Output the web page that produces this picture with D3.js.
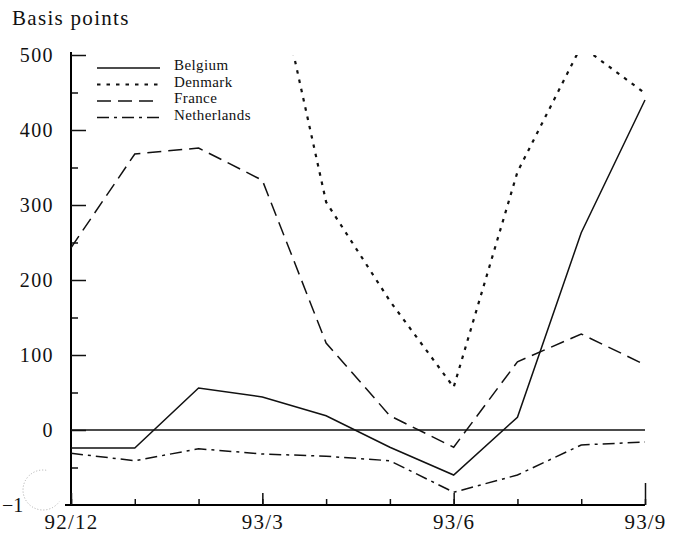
<!DOCTYPE html>
<html>
<head>
<meta charset="utf-8">
<script src="https://cdn.jsdelivr.net/npm/d3@7"></script>
<style>
  body { margin: 0; background: #fff; }
  svg { display: block; }
  text { font-family: "Liberation Serif", "Times New Roman", serif; fill: #111; }
</style>
</head>
<body>
<svg id="chart" width="673" height="543"></svg>
<script>
// monthly spreads, basis points
var months = ["92/12", "93/1", "93/2", "93/3", "93/4", "93/5", "93/6", "93/7", "93/8", "93/9"];
var belgium = [-24, -24, 56, 44, 19, -23, -60, 17, 263, 440];
var denmark = [null, null, null, 690, 304, 172, 57, 344, 512, 449];
var france = [243, 368, 376, 333, 116, 19, -23, 91, 128, 87];
var netherlands = [-31, -41, -25, -32, -35, -41, -83, -60, -20, -16];

var yMajor = [-100, 0, 100, 200, 300, 400, 500];
var yMinor = [-50, 50, 150, 250, 350, 450];
var xLabels = ["92/12", "93/3", "93/6", "93/9"];

var seriesNames = ["Belgium", "Denmark", "France", "Netherlands"];
var seriesData = [belgium, denmark, france, netherlands];
var dashes = [null, "3.5,6", "14,7", "12,5,3,5"];

var svg = d3.select("#chart");

var x = d3.scalePoint().domain(months).range([71, 645]);
var y = d3.scaleLinear().domain([-100, 500]).range([505, 55]);

svg.append("text")
    .attr("x", 12).attr("y", 25)
    .style("font-size", "21px")
    .style("letter-spacing", "1.3px")
    .text("Basis points");

// clip so Denmark runs off the top
svg.append("clipPath").attr("id", "plotclip")
  .append("rect")
    .attr("x", 60).attr("y", y(500))
    .attr("width", 600).attr("height", y(-100) - y(500) + 5);

// y axis, ticks point inward
var yAxisMinor = d3.axisLeft(y).tickValues(yMinor).tickSizeInner(-7).tickSizeOuter(0).tickFormat("");
var yAxisMajor = d3.axisLeft(y).tickValues(yMajor.filter(function (v) { return v > -100; }))
    .tickSizeInner(-15).tickSizeOuter(0).tickPadding(17)
    .tickFormat(function (d) { return d; });

var gy1 = svg.append("g").attr("transform", "translate(71,0)").call(yAxisMinor);
var gy2 = svg.append("g").attr("transform", "translate(71,0)").call(yAxisMajor);
gy1.select(".domain").remove();
gy2.select(".domain").attr("stroke-width", 2).attr("d", "M0," + (y(500) - 3) + "V" + y(-100));
[gy1, gy2].forEach(function (g) {
  g.selectAll(".tick line").attr("stroke", "#111").attr("stroke-width", 1.5);
  g.selectAll(".tick text").style("font-size", "20px").style("letter-spacing", "1.4px")
    .style("font-family", "Liberation Serif, serif").attr("fill", "#111");
});

// -100 label, partly lost in the scan
svg.append("text")
    .attr("x", 2).attr("y", y(-100) + 7)
    .style("font-size", "20px")
    .text("\u22121");

var smudge = d3.path();
smudge.arc(43, 490, 20, Math.PI * 1.55, Math.PI * 0.2, true);
svg.append("path")
    .attr("d", smudge.toString())
    .attr("fill", "none")
    .attr("stroke", "#aaa")
    .attr("stroke-width", 1)
    .attr("stroke-dasharray", "1,2");

// x axis, monthly ticks up, quarters longer
var xAxisMinor = d3.axisBottom(x).tickSizeInner(-6).tickSizeOuter(0).tickFormat("");
var xAxisMajor = d3.axisBottom(x).tickValues(xLabels).tickSizeInner(-12).tickSizeOuter(0).tickPadding(9);

var gx1 = svg.append("g").attr("transform", "translate(0," + y(-100) + ")").call(xAxisMinor);
var gx2 = svg.append("g").attr("transform", "translate(0," + y(-100) + ")").call(xAxisMajor);
gx1.select(".domain").remove();
gx2.select(".domain").attr("stroke-width", 2).attr("d", "M65,0H" + x("93/9"));
[gx1, gx2].forEach(function (g) {
  g.selectAll(".tick line").attr("stroke", "#111").attr("stroke-width", 1.5);
  g.selectAll(".tick text").style("font-size", "21px").style("letter-spacing", "1.2px")
    .style("font-family", "Liberation Serif, serif").attr("fill", "#111");
});
gx2.selectAll(".tick line").filter(function (d) { return d === "93/9"; }).attr("y2", -22);

// zero line
svg.append("line")
    .attr("x1", 71).attr("x2", x("93/9"))
    .attr("y1", y(0)).attr("y2", y(0))
    .attr("stroke", "#111").attr("stroke-width", 1.6);

var line = d3.line()
    .defined(function (d) { return d !== null; })
    .x(function (d, i) { return x(months[i]); })
    .y(function (d) { return y(d); });

var plot = svg.append("g").attr("clip-path", "url(#plotclip)");
seriesData.forEach(function (vals, i) {
  plot.append("path")
      .datum(vals)
      .attr("d", line)
      .attr("fill", "none")
      .attr("stroke", "#111")
      .attr("stroke-width", i === 1 ? 2.2 : 1.5)
      .attr("stroke-dasharray", dashes[i]);
});

// legend
var legend = svg.append("g");
seriesNames.forEach(function (name, i) {
  var ly = 68 + i * 16.5;
  legend.append("line")
      .attr("x1", 97).attr("x2", 160)
      .attr("y1", ly).attr("y2", ly)
      .attr("stroke", "#111")
      .attr("stroke-width", i === 1 ? 1.8 : 1.4)
      .attr("stroke-dasharray", dashes[i]);
  legend.append("text")
      .attr("x", 174).attr("y", ly + 2)
      .style("font-size", "15px")
      .style("letter-spacing", "0.4px")
      .text(name);
});
</script>
</body>
</html>
